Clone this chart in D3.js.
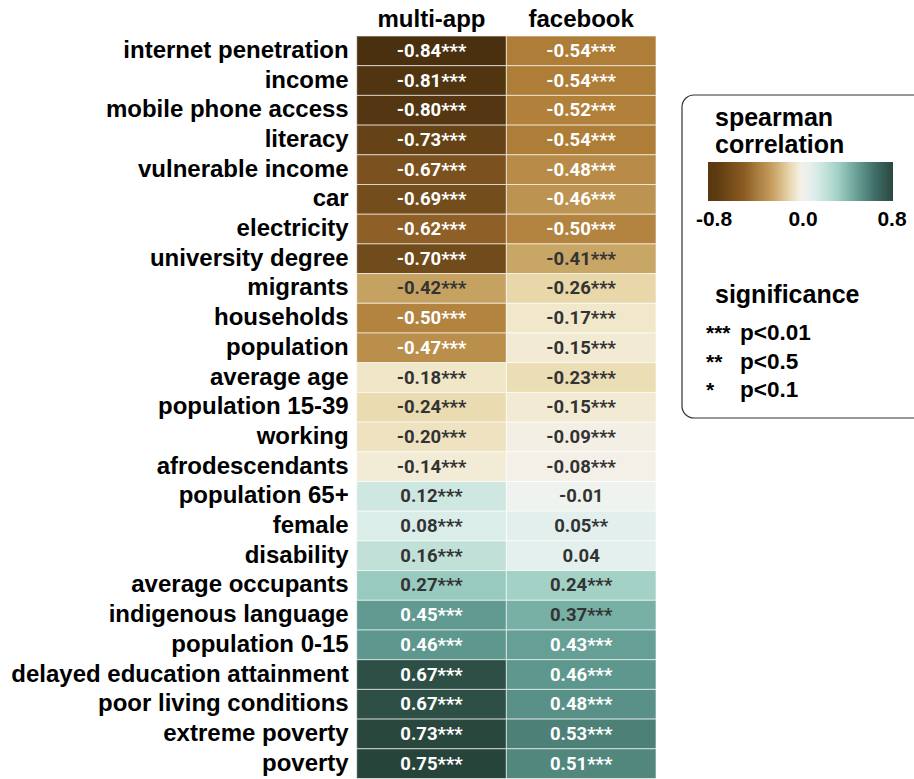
<!DOCTYPE html>
<html>
<head>
<meta charset="utf-8">
<script src="https://cdn.jsdelivr.net/npm/d3@7"></script>
<style>
  html, body { margin: 0; padding: 0; background: #fff; }
  svg { display: block; }
</style>
</head>
<body>
<svg id="chart" width="914" height="779"></svg>
<script>
// ---------------- DATA ----------------
const variables = [
  "internet penetration", "income", "mobile phone access", "literacy",
  "vulnerable income", "car", "electricity", "university degree",
  "migrants", "households", "population", "average age",
  "population 15-39", "working", "afrodescendants", "population 65+",
  "female", "disability", "average occupants", "indigenous language",
  "population 0-15", "delayed education attainment", "poor living conditions",
  "extreme poverty", "poverty"
];
const columns = ["multi-app", "facebook"];
const multiApp = [-0.84, -0.81, -0.80, -0.73, -0.67, -0.69, -0.62, -0.70,
  -0.42, -0.50, -0.47, -0.18, -0.24, -0.20, -0.14, 0.12, 0.08, 0.16, 0.27,
  0.45, 0.46, 0.67, 0.67, 0.73, 0.75];
const multiAppSig = ["***","***","***","***","***","***","***","***",
  "***","***","***","***","***","***","***","***","***","***","***",
  "***","***","***","***","***","***"];
const facebook = [-0.54, -0.54, -0.52, -0.54, -0.48, -0.46, -0.50, -0.41,
  -0.26, -0.17, -0.15, -0.23, -0.15, -0.09, -0.08, -0.01, 0.05, 0.04, 0.24,
  0.37, 0.43, 0.46, 0.48, 0.53, 0.51];
const facebookSig = ["***","***","***","***","***","***","***","***",
  "***","***","***","***","***","***","***","","**","","***",
  "***","***","***","***","***","***"];
const legendTicks = [-0.8, 0.0, 0.8];
const sigSymbols = ["***", "**", "*"];
const sigLabels = ["p<0.01", "p<0.5", "p<0.1"];

// palette (cell fill)
const fillStops = [-0.84, -0.73, -0.62, -0.55, -0.5, -0.4, -0.26, -0.17, -0.08, 0,
  0.1, 0.25, 0.4, 0.5, 0.65, 0.8];
const fillColors = ["#4a300f", "#654317", "#8e5f26", "#ad7c38", "#b3843f", "#caaa6a",
  "#e8d7a8", "#f1e8cc", "#f4f0e8", "#eef3f1",
  "#d6ebe6", "#9fcfc4", "#6ea89e", "#548b82", "#2f5248", "#233d33"];
// palette (legend bar)
const legendStops = [-0.8, -0.53, -0.27, -0.08, 0, 0.16, 0.32, 0.48, 0.64, 0.8];
const legendColors = ["#583810", "#8c5c22", "#c9a262", "#efe4c4", "#f5f5f5",
  "#cfe8e2", "#a0d0c4", "#6aa096", "#40706a", "#2a4840"];

// ---------------- CHART ----------------
const svg = d3.select("#chart");
const labelFont = "'Liberation Sans', Arial, sans-serif";
const cellFont = "Roboto, 'Noto Sans', sans-serif";

const color = d3.scaleLinear().domain(fillStops).range(fillColors).clamp(true);
const legendColor = d3.scaleLinear().domain(legendStops).range(legendColors).clamp(true);

const x = d3.scaleBand().domain(columns).range([356.7, 656]);
const y = d3.scaleBand().domain(variables).range([36, 778.5]);

const cells = [];
variables.forEach((v, i) => {
  cells.push({ v, col: "multi-app", val: multiApp[i], sig: multiAppSig[i] });
  cells.push({ v, col: "facebook", val: facebook[i], sig: facebookSig[i] });
});

const g = svg.append("g");
g.selectAll("rect.cell").data(cells).join("rect")
  .attr("class", "cell")
  .attr("x", d => x(d.col))
  .attr("y", d => y(d.v))
  .attr("width", x.bandwidth())
  .attr("height", y.bandwidth())
  .attr("fill", d => color(d.val))
  .attr("stroke", "rgba(255,255,255,0.6)")
  .attr("stroke-width", 1);

const fmt = v => v.toFixed(2);
g.selectAll("text.val").data(cells).join("text")
  .attr("class", "val")
  .attr("x", d => x(d.col) + x.bandwidth() / 2)
  .attr("y", d => y(d.v) + y.bandwidth() / 2 + 6)
  .attr("text-anchor", "middle")
  .attr("font-family", cellFont)
  .attr("font-weight", "bold")
  .attr("font-size", "18.5px")
  .attr("fill", d => d3.lab(color(d.val)).l > 67 ? "#333333" : "#ffffff")
  .text(d => fmt(d.val) + d.sig);

// row labels
const yAxis = d3.axisLeft(y).tickSize(0).tickPadding(8);
const ya = svg.append("g").attr("transform", `translate(${356.7},0)`).call(yAxis);
ya.select(".domain").remove();
ya.selectAll("text")
  .attr("font-family", labelFont)
  .attr("font-weight", "bold")
  .attr("font-size", "24px")
  .attr("fill", "#000")
  .attr("dy", "0.29em");

// column headers
const xAxis = d3.axisTop(x).tickSize(0).tickPadding(0);
const xa = svg.append("g").attr("transform", `translate(0,27)`).call(xAxis);
xa.select(".domain").remove();
xa.selectAll("text")
  .attr("font-family", labelFont)
  .attr("font-weight", "bold")
  .attr("font-size", "24px")
  .attr("fill", "#000")
  .attr("dy", 0);

// ---------------- LEGEND ----------------
const lg = svg.append("g");
lg.append("rect")
  .attr("x", 682).attr("y", 95)
  .attr("width", 260).attr("height", 323)
  .attr("rx", 12).attr("ry", 12)
  .attr("fill", "#fff").attr("stroke", "#333").attr("stroke-width", 1.2);

["spearman", "correlation"].forEach((t, i) => {
  lg.append("text").attr("x", 715).attr("y", 126 + i * 27)
    .attr("font-family", labelFont).attr("font-weight", "bold")
    .attr("font-size", "25px").attr("fill", "#000").text(t);
});

const lx = d3.scaleLinear().domain([-0.8, 0.8]).range([714, 892]);
const defs = svg.append("defs");
const grad = defs.append("linearGradient").attr("id", "lgrad")
  .attr("x1", "0%").attr("x2", "100%").attr("y1", "0%").attr("y2", "0%");
const barX0 = 708, barX1 = 893;
d3.range(0, 1.0001, 0.05).forEach(t => {
  const px = barX0 + t * (barX1 - barX0);
  grad.append("stop").attr("offset", (t * 100) + "%")
    .attr("stop-color", legendColor(lx.invert(px)));
});
lg.append("rect").attr("x", barX0).attr("y", 162)
  .attr("width", barX1 - barX0).attr("height", 39)
  .attr("fill", "url(#lgrad)");

lg.selectAll("text.tick").data(legendTicks).join("text")
  .attr("class", "tick")
  .attr("x", d => lx(d))
  .attr("y", 226)
  .attr("text-anchor", "middle")
  .attr("font-family", labelFont).attr("font-weight", "bold")
  .attr("font-size", "21px").attr("fill", "#000")
  .text(d => d3.format(".1f")(d).replace("−", "-"));

lg.append("text").attr("x", 715).attr("y", 303)
  .attr("font-family", labelFont).attr("font-weight", "bold")
  .attr("font-size", "25px").attr("fill", "#000").text("significance");

sigSymbols.forEach((s, i) => {
  lg.append("text").attr("x", 706).attr("y", 340 + i * 28.5)
    .attr("font-family", labelFont).attr("font-weight", "bold")
    .attr("font-size", "21px").attr("fill", "#000").text(s);
  lg.append("text").attr("x", 740).attr("y", 340 + i * 28.5)
    .attr("font-family", labelFont).attr("font-weight", "bold")
    .attr("font-size", "22.5px").attr("fill", "#000").text(sigLabels[i]);
});
</script>
</body>
</html>
